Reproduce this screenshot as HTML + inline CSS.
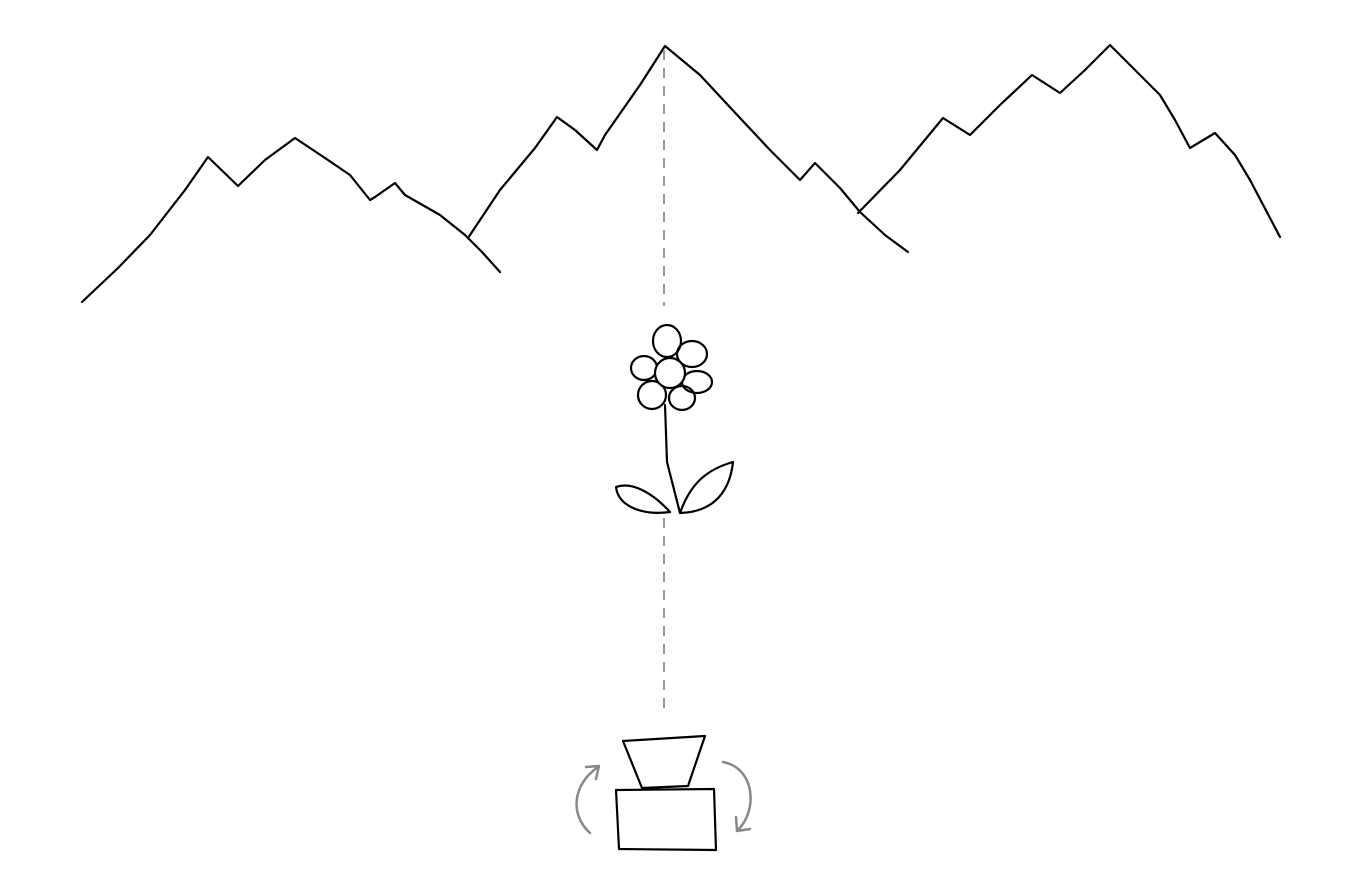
<!DOCTYPE html>
<html><head><meta charset="utf-8"><style>
html,body{margin:0;padding:0;background:#fff;}
svg{display:block;}
</style></head><body>
<svg width="1359" height="879" viewBox="0 0 1359 879">
<g fill="none" stroke="#000" stroke-width="2.2" stroke-linejoin="round" stroke-linecap="round">
<path d="M82,302 L118,268 L150,235 L185,190 L208,157 L238,186 L265,160 L295,138 L325,158 L350,175 L370,200 L375,197 L395,183 L405,195 L440,215 L465,235 L482,252 L500,272"/>
<path d="M468,238 L500,190 L535,148 L557,117 L575,130 L597,150 L605,135 L640,85 L665,46 L700,75 L740,118 L770,150 L800,180 L815,163 L840,188 L860,212 L885,235 L908,252"/>
<path d="M858,213 L900,170 L943,118 L970,135 L1000,105 L1032,75 L1060,93 L1085,70 L1110,45 L1135,70 L1160,95 L1175,120 L1190,148 L1215,133 L1235,155 L1250,180 L1280,237"/>
</g>
<line x1="664" y1="50" x2="664" y2="306" stroke="#999" stroke-width="2" stroke-dasharray="10,8"/>
<line x1="664" y1="518" x2="664" y2="710" stroke="#999" stroke-width="2" stroke-dasharray="10,8"/>
<g fill="none" stroke="#000" stroke-width="2.2" stroke-linejoin="round" stroke-linecap="round">
<ellipse cx="667" cy="341" rx="14" ry="16"/>
<ellipse cx="692" cy="354" rx="15" ry="13"/>
<ellipse cx="697" cy="382" rx="15" ry="11"/>
<ellipse cx="682" cy="398" rx="13" ry="12"/>
<ellipse cx="652" cy="395" rx="14" ry="14"/>
<ellipse cx="644" cy="368" rx="13" ry="12"/>
<circle cx="670" cy="373" r="15" fill="#fff"/>
<path d="M665,405 L667,462 L680,513"/>
<path d="M670,512 C650,490 630,482 616,487 C618,505 640,516 670,512"/>
<path d="M680,513 C715,512 730,490 733,462 C705,470 690,485 680,513"/>
</g>
<g fill="none" stroke="#000" stroke-width="2.2" stroke-linejoin="round">
<path d="M623,741 L705,736 L688,786 L642,788 Z"/>
<path d="M616,790 L714,789 L716,850 L619,849 Z" fill="#fff"/>
</g>
<g fill="none" stroke="#888" stroke-width="2.5" stroke-linecap="round" stroke-linejoin="round">
<path d="M590,833 C570,815 572,785 598,767 M586,767 L599,766 L596,779"/>
<path d="M723,762 C755,768 758,810 738,830 M736,817 L737,831 L750,829"/>
</g>
</svg>
</body></html>
